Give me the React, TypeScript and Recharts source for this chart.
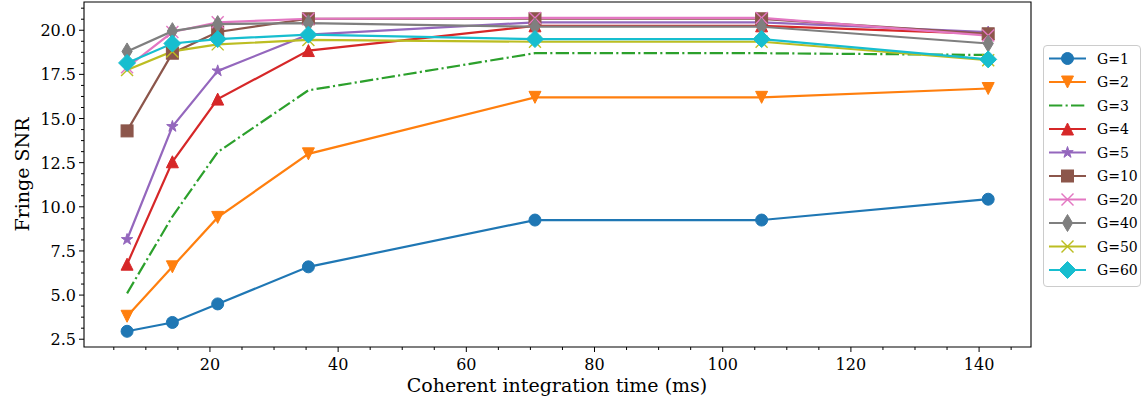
import React from 'react';
import { LineChart, Line, XAxis, YAxis, ReferenceArea, Legend, Label } from 'recharts';

// coherent integration time (ms)
const times = [7.07, 14.14, 21.21, 35.36, 70.71, 106.07, 141.42];

// fringe SNR per gain setting
const g1 = [2.95, 3.45, 4.5, 6.6, 9.25, 9.25, 10.43];
const g2 = [3.8, 6.6, 9.4, 13.0, 16.2, 16.2, 16.7];
const g3 = [5.1, 9.45, 13.1, 16.6, 18.7, 18.7, 18.6];
const g4 = [6.75, 12.55, 16.1, 18.85, 20.25, 20.25, 19.8];
const g5 = [8.15, 14.55, 17.7, 19.75, 20.45, 20.45, 19.9];
const g10 = [14.3, 18.7, 19.9, 20.65, 20.65, 20.65, 19.8];
const g20 = [17.9, 19.9, 20.45, 20.65, 20.7, 20.7, 19.7];
const g40 = [18.8, 19.95, 20.35, 20.4, 20.2, 20.2, 19.25];
const g50 = [17.75, 18.8, 19.2, 19.45, 19.35, 19.35, 18.3];
const g60 = [18.15, 19.25, 19.5, 19.75, 19.5, 19.5, 18.35];

const seriesNames = ['G=1', 'G=2', 'G=3', 'G=4', 'G=5', 'G=10', 'G=20', 'G=40', 'G=50', 'G=60'];
const seriesValues = [g1, g2, g3, g4, g5, g10, g20, g40, g50, g60];
const seriesColors = ['#1f77b4', '#ff7f0e', '#2ca02c', '#d62728', '#9467bd', '#8c564b', '#e377c2', '#7f7f7f', '#bcbd22', '#17becf'];
const seriesMarkers = ['o', 'v', '', '^', '*', 's', 'x', 'd', 'x', 'D'];

const xMajor = [20, 40, 60, 80, 100, 120, 140];
const xTicks = [5, 10, 15, 20, 25, 30, 35, 40, 45, 50, 55, 60, 65, 70, 75, 80, 85, 90, 95, 100, 105, 110, 115, 120, 125, 130, 135, 140, 145];
const yMajor = [2.5, 5, 7.5, 10, 12.5, 15, 17.5, 20];
const yTicks = yMajor.flatMap((v) => [v, v + 0.625, v + 1.25, v + 1.875]).filter((v) => v < 21.6);

const X_DOMAIN: [number, number] = [0.35, 148.1];
const Y_DOMAIN: [number, number] = [2.06, 21.6];
const FONT = '"DejaVu Serif", serif';

const rows = times.map((t, i) => {
  const r: any = { t };
  seriesValues.forEach((vals, k) => {
    r['s' + k] = vals[i];
  });
  return r;
});

function Mark({ kind, cx, cy, color }: { kind: string; cx: number; cy: number; color: string }) {
  const h = 6;
  switch (kind) {
    case 'o':
      return <circle cx={cx} cy={cy} r={h} fill={color} stroke={color} strokeWidth={1} />;
    case 'v':
      return <polygon points={`${cx - h},${cy - h} ${cx + h},${cy - h} ${cx},${cy + h}`} fill={color} stroke={color} strokeWidth={1} />;
    case '^':
      return <polygon points={`${cx - h},${cy + h} ${cx + h},${cy + h} ${cx},${cy - h}`} fill={color} stroke={color} strokeWidth={1} />;
    case '*': {
      const pts: string[] = [];
      for (let i = 0; i < 10; i++) {
        const r = i % 2 === 0 ? h : h * 0.382;
        const a = (Math.PI / 5) * i - Math.PI / 2;
        pts.push(`${cx + r * Math.cos(a)},${cy + r * Math.sin(a)}`);
      }
      return <polygon points={pts.join(' ')} fill={color} stroke={color} strokeWidth={1} />;
    }
    case 's':
      return <rect x={cx - h} y={cy - h} width={2 * h} height={2 * h} fill={color} stroke={color} strokeWidth={1} />;
    case 'x':
      return (
        <g stroke={color} strokeWidth={1.4}>
          <line x1={cx - h} y1={cy - h} x2={cx + h} y2={cy + h} />
          <line x1={cx - h} y1={cy + h} x2={cx + h} y2={cy - h} />
        </g>
      );
    case 'd': {
      const w = 8.5 * 0.6;
      const v = 8.5;
      return <polygon points={`${cx},${cy - v} ${cx + w},${cy} ${cx},${cy + v} ${cx - w},${cy}`} fill={color} stroke={color} strokeWidth={1} />;
    }
    case 'D': {
      const v = 8.5;
      return <polygon points={`${cx},${cy - v} ${cx + v},${cy} ${cx},${cy + v} ${cx - v},${cy}`} fill={color} stroke={color} strokeWidth={1} />;
    }
    default:
      return null;
  }
}

const renderXTick = (props: any) => {
  const { x, y, payload } = props;
  const major = xMajor.includes(payload.value);
  return (
    <g>
      <line x1={x} x2={x} y1={y} y2={y + (major ? 5 : 3)} stroke="#000" strokeWidth={1} />
      {major && (
        <text x={x} y={y + 23} textAnchor="middle" fontSize={16} fontFamily={FONT} fill="#000">
          {payload.value}
        </text>
      )}
    </g>
  );
};

const renderYTick = (props: any) => {
  const { x, y, payload } = props;
  const major = yMajor.includes(payload.value);
  return (
    <g>
      <line x1={x - (major ? 5 : 3)} x2={x} y1={y} y2={y} stroke="#000" strokeWidth={1} />
      {major && (
        <text x={x - 8} y={y + 6} textAnchor="end" fontSize={16} fontFamily={FONT} fill="#000">
          {payload.value.toFixed(1)}
        </text>
      )}
    </g>
  );
};

const renderLegend = () => (
  <div
    style={{
      width: 98,
      height: 242,
      border: '1px solid #cccccc',
      borderRadius: 4,
      background: 'rgba(255,255,255,0.8)',
      boxSizing: 'border-box',
    }}
  >
    <svg width={96} height={240} style={{ overflow: 'visible' }}>
      {seriesNames.map((name, i) => {
        const cy = 12.5 + i * 23.5;
        return (
          <g key={name}>
            <line
              x1={5}
              x2={42}
              y1={cy}
              y2={cy}
              stroke={seriesColors[i]}
              strokeWidth={2.2}
              strokeDasharray={seriesMarkers[i] === '' ? '13.3 3.3 2.1 3.3' : undefined}
            />
            <Mark kind={seriesMarkers[i]} cx={23.5} cy={cy} color={seriesColors[i]} />
            <text x={53} y={cy + 5} fontSize={14} fontFamily={FONT} fill="#000">
              {name}
            </text>
          </g>
        );
      })}
    </svg>
  </div>
);

export default function App() {
  return (
    <div style={{ position: 'absolute', left: 0, top: 0, width: 1143, height: 406, background: '#fff' }}>
      <LineChart width={1143} height={406} data={rows} margin={{ top: 2, right: 112, bottom: 0, left: 0 }}>
        <XAxis
          dataKey="t"
          type="number"
          domain={X_DOMAIN}
          allowDataOverflow
          ticks={xTicks}
          interval={0}
          height={59}
          tickSize={0}
          tickMargin={0}
          axisLine={false}
          tickLine={false}
          tick={renderXTick}
        >
          <Label
            content={() => (
              <text x={557} y={392} textAnchor="middle" fontSize={19} fontFamily={FONT} fill="#000">
                Coherent integration time (ms)
              </text>
            )}
          />
        </XAxis>
        <YAxis
          type="number"
          domain={Y_DOMAIN}
          allowDataOverflow
          ticks={yTicks}
          interval={0}
          width={84}
          tickSize={0}
          tickMargin={0}
          axisLine={false}
          tickLine={false}
          tick={renderYTick}
        >
          <Label
            content={() => (
              <text
                x={29}
                y={174.5}
                transform="rotate(-90, 29, 174.5)"
                textAnchor="middle"
                fontSize={19}
                fontFamily={FONT}
                fill="#000"
              >
                Fringe SNR
              </text>
            )}
          />
        </YAxis>
        <ReferenceArea
          x1={X_DOMAIN[0]}
          x2={X_DOMAIN[1]}
          y1={Y_DOMAIN[0]}
          y2={Y_DOMAIN[1]}
          fill="none"
          stroke="#000"
          strokeWidth={1.1}
          ifOverflow="visible"
        />
        {seriesNames.map((name, k) => (
          <Line
            key={name}
            type="linear"
            dataKey={'s' + k}
            name={name}
            stroke={seriesColors[k]}
            strokeWidth={2.2}
            strokeDasharray={seriesMarkers[k] === '' ? '13.3 3.3 2.1 3.3' : undefined}
            dot={
              seriesMarkers[k] === ''
                ? false
                : (p: any) => <Mark key={name + '-' + p.index} kind={seriesMarkers[k]} cx={p.cx} cy={p.cy} color={seriesColors[k]} />
            }
            activeDot={false}
            isAnimationActive={false}
          />
        ))}
        <Legend
          layout="horizontal"
          verticalAlign="middle"
          align="center"
          content={renderLegend}
          wrapperStyle={{ left: 1043, top: 45, width: 98, height: 242 }}
        />
      </LineChart>
    </div>
  );
}
